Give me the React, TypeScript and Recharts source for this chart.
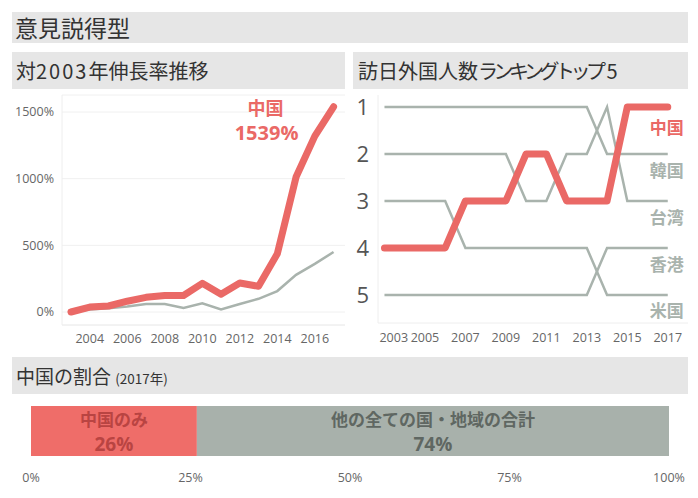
import React from 'react';
import { LineChart, Line, XAxis, YAxis, CartesianGrid, BarChart, Bar, LabelList } from 'recharts';

// 対2003年伸長率 (%)
const years = [2003, 2004, 2005, 2006, 2007, 2008, 2009, 2010, 2011, 2012, 2013, 2014, 2015, 2016, 2017];
const chinaGrowth = [0, 37, 45, 81, 110, 123, 124, 215, 133, 217, 193, 436, 1012, 1319, 1539];
const totalGrowth = [0, 18, 29, 41, 60, 60, 30, 65, 19, 60, 99, 157, 279, 361, 450];
const growthTicks = [0, 500, 1000, 1500];
const growthYearTicks = [2004, 2006, 2008, 2010, 2012, 2014, 2016];

// ランキング
const chinaRank = [4, 4, 4, 4, 3, 3, 3, 2, 2, 3, 3, 3, 1, 1, 1];
const koreaRank = [1, 1, 1, 1, 1, 1, 1, 1, 1, 1, 1, 2, 2, 2, 2];
const taiwanRank = [2, 2, 2, 2, 2, 2, 2, 3, 3, 2, 2, 1, 3, 3, 3];
const hongkongRank = [5, 5, 5, 5, 5, 5, 5, 5, 5, 5, 5, 4, 4, 4, 4];
const usRank = [3, 3, 3, 3, 4, 4, 4, 4, 4, 4, 4, 5, 5, 5, 5];
const rankNames = ['中国', '韓国', '台湾', '香港', '米国'];
const rankTicks = [1, 2, 3, 4, 5];
const rankYearTicks = [2003, 2005, 2007, 2009, 2011, 2013, 2015, 2017];

// 中国の割合 (2017年)
const shareNames = ['中国のみ', '他の全ての国・地域の合計'];
const shareValues = [26, 74];
const shareTicks = [0, 25, 50, 75, 100];

const RED = '#ea6966';
const GRAY = '#a9b3ad';
const BAND = '#e6e6e6';
const JP = '"Noto Sans CJK JP", sans-serif';
const NUM = '"Open Sans", "Noto Sans CJK JP", sans-serif';

const growthData = years.map((y, i) => ({ year: y, china: chinaGrowth[i], total: totalGrowth[i] }));
const rankData = years.map((y, i) => ({
    year: y,
    china: chinaRank[i],
    korea: koreaRank[i],
    taiwan: taiwanRank[i],
    hongkong: hongkongRank[i],
    us: usRank[i],
}));
const shareData = [{ name: '2017', china: shareValues[0], other: shareValues[1] }];

const band = (left: number, top: number, width: number, height: number): React.CSSProperties => ({
    position: 'absolute', left, top, width, height, background: BAND,
});

const endLabel = (name: string, color: string, dy: number) => (props: any) => {
    if (props.index !== years.length - 1) return null;
    return (
        <text x={props.x + 16} y={props.y + dy} textAnchor="end" fill={color}
            fontSize={17} fontWeight="bold" fontFamily={JP}>{name}</text>
    );
};

const shareLabel = (name: string, color: string) => (props: any) => {
    const { x, y, width, value } = props;
    const cx = x + width / 2;
    return (
        <g fontWeight="bold" fill={color} textAnchor="middle">
            <text x={cx} y={y + 19.5} fontSize={17} fontFamily={JP}>{name}</text>
            <text x={cx} y={y + 45} fontSize={19} fontFamily={NUM}>{value}%</text>
        </g>
    );
};

const RankYearTick = (props: any) => {
    const { x, y, payload, index } = props;
    return (
        <text x={index === 0 ? x - 5 : x} y={y + 11} textAnchor={index === 0 ? 'start' : 'middle'}
            fill="#666" fontSize={12.5} fontFamily={NUM}>{payload.value}</text>
    );
};

export default function App() {
    return (
        <div style={{ position: 'absolute', left: 0, top: 0, width: 698, height: 498, background: '#fff', fontFamily: JP, color: '#333' }}>
            <div style={band(12, 12, 676, 31)} />
            <div style={{ position: 'absolute', left: 15, top: 12, lineHeight: '31px', fontSize: 23 }}>意見説得型</div>

            <div style={band(12, 52, 333, 37)} />
            <div style={{ position: 'absolute', left: 16, top: 52, lineHeight: '37px', fontSize: 20 }}>
                対<span style={{ letterSpacing: 2 }}>2003</span>年伸長率推移
            </div>
            <div style={band(353, 52, 335, 37)} />
            <div style={{ position: 'absolute', left: 358, top: 52, lineHeight: '37px', fontSize: 20 }}>
                訪日外国人数<span style={{ letterSpacing: -4.5, paddingRight: 5 }}>ランキングトップ</span>5
            </div>

            <div style={{ position: 'absolute', left: 0, top: 90 }}>
                <LineChart width={345} height={260} data={growthData} margin={{ top: 5, right: 0, left: 0, bottom: 0 }}>
                    <CartesianGrid vertical={false} stroke="#f0f0f0" />
                    <XAxis dataKey="year" type="number" domain={[2002.52, 2017.61]} allowDataOverflow
                        ticks={growthYearTicks} height={25} tickLine={false} stroke="#eeeeee"
                        tick={{ fill: '#666', fontSize: 12.5, fontFamily: NUM }} tickMargin={3} />
                    <YAxis type="number" domain={[-97.5, 1627.5]} allowDataOverflow ticks={growthTicks} width={62}
                        tickFormatter={(v) => `${v}%`} tickLine={false} stroke="#eeeeee"
                        tick={{ fill: '#666', fontSize: 12.5, fontFamily: NUM }} />
                    <Line dataKey="total" stroke={GRAY} strokeWidth={2.5} dot={false} isAnimationActive={false} />
                    <Line dataKey="china" stroke={RED} strokeWidth={7} dot={false} strokeLinecap="round"
                        strokeLinejoin="round" isAnimationActive={false}>
                        <LabelList dataKey="china" content={(p: any) => p.index !== years.length - 1 ? null : (
                            <g fill={RED} fontWeight="bold" textAnchor="middle">
                                <text x={p.x - 68} y={p.y + 8} fontSize={18} fontFamily={JP}>中国</text>
                                <text x={p.x - 67} y={p.y + 33} fontSize={20} fontFamily={NUM}>{`${p.value}%`}</text>
                            </g>
                        )} />
                    </Line>
                </LineChart>
            </div>

            <div style={{ position: 'absolute', left: 345, top: 90 }}>
                <LineChart width={343} height={260} data={rankData} margin={{ top: 5, right: 0, left: 0, bottom: 0 }}>
                    <XAxis dataKey="year" type="number" domain={[2002.68, 2018]} allowDataOverflow
                        ticks={rankYearTicks} interval={0} height={27} tickLine={false} stroke="#eeeeee"
                        tick={<RankYearTick />} />
                    <YAxis type="number" domain={[0.745, 5.596]} allowDataOverflow reversed ticks={rankTicks}
                        width={33} tickLine={false} stroke="#eeeeee" tickMargin={3}
                        tick={{ fill: '#555', fontSize: 22, fontFamily: NUM }} />
                    <Line dataKey="korea" stroke={GRAY} strokeWidth={2.5} dot={false} isAnimationActive={false}>
                        <LabelList dataKey="korea" content={endLabel(rankNames[1], GRAY, 23)} />
                    </Line>
                    <Line dataKey="taiwan" stroke={GRAY} strokeWidth={2.5} dot={false} isAnimationActive={false}>
                        <LabelList dataKey="taiwan" content={endLabel(rankNames[2], GRAY, 23)} />
                    </Line>
                    <Line dataKey="hongkong" stroke={GRAY} strokeWidth={2.5} dot={false} isAnimationActive={false}>
                        <LabelList dataKey="hongkong" content={endLabel(rankNames[3], GRAY, 23)} />
                    </Line>
                    <Line dataKey="us" stroke={GRAY} strokeWidth={2.5} dot={false} isAnimationActive={false}>
                        <LabelList dataKey="us" content={endLabel(rankNames[4], GRAY, 22)} />
                    </Line>
                    <Line dataKey="china" stroke={RED} strokeWidth={7} dot={false} strokeLinecap="round"
                        strokeLinejoin="round" isAnimationActive={false}>
                        <LabelList dataKey="china" content={endLabel(rankNames[0], RED, 27)} />
                    </Line>
                </LineChart>
            </div>

            <div style={band(12, 357, 676, 37)} />
            <div style={{ position: 'absolute', left: 16, top: 357, lineHeight: '37px', fontSize: 19 }}>
                中国の割合 <span style={{ fontSize: 13.5 }}>(2017年)</span>
            </div>

            <div style={{ position: 'absolute', left: 0, top: 395 }}>
                <BarChart width={698} height={103} layout="vertical" data={shareData} barCategoryGap={0}
                    margin={{ top: 11, right: 29, left: 31, bottom: 0 }}>
                    <XAxis type="number" domain={[0, 100]} ticks={shareTicks} interval={0} height={42}
                        tickFormatter={(v) => `${v}%`} axisLine={false} tickLine={false} tickMargin={11}
                        tick={{ fill: '#666', fontSize: 12.5, fontFamily: NUM }} />
                    <YAxis type="category" dataKey="name" hide />
                    <Bar dataKey="china" stackId="s" fill="#ef6d69" isAnimationActive={false}>
                        <LabelList dataKey="china" content={shareLabel(shareNames[0], '#b94442')} />
                    </Bar>
                    <Bar dataKey="other" stackId="s" fill="#a8b1ab" isAnimationActive={false}>
                        <LabelList dataKey="other" content={shareLabel(shareNames[1], '#5f6762')} />
                    </Bar>
                </BarChart>
            </div>
        </div>
    );
}
